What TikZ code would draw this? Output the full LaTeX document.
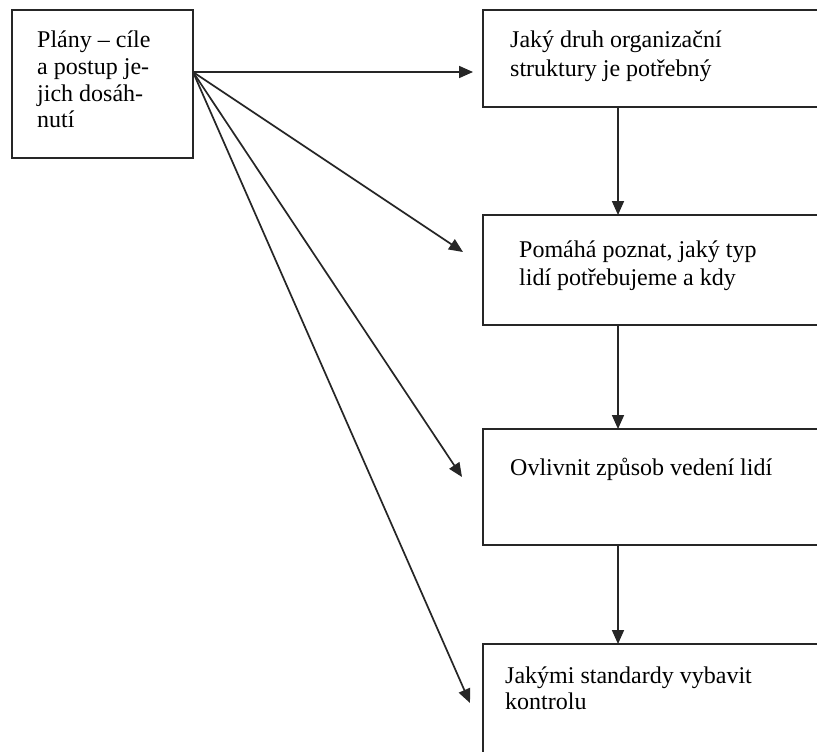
\documentclass[tikz,border=0pt]{standalone}
\usepackage{fontspec}
\setmainfont{Liberation Serif}
\usetikzlibrary{arrows.meta,calc}
\begin{document}
\begin{tikzpicture}[x=1pt,y=-1pt,
  box/.style={draw=black!85, line width=2pt, anchor=north west, inner sep=0pt, outer sep=0pt},
  conn/.style={draw=black!85, line width=1.7pt, -{Triangle[length=14pt,width=12pt]}},
  txt/.style={anchor=base west, inner sep=0pt, align=left}]
\useasboundingbox (0,0) rectangle (817,752);
\fill[white] (0,0) rectangle (817,752);
\clip (0,0) rectangle (817,752);
% boxes
\node[box, minimum width=181pt, minimum height=148pt] (plan) at (12,10) {};
\node[box, minimum width=360pt, minimum height=97pt]  (b1) at (483,10) {};
\node[box, minimum width=360pt, minimum height=110pt] (b2) at (483,215) {};
\node[box, minimum width=360pt, minimum height=116pt] (b3) at (483,429) {};
\node[box, minimum width=360pt, minimum height=140pt] (b4) at (483,644) {};
% texts (anchored at the baseline of their last line)
\node[txt, font=\fontsize{24}{26.7}\selectfont] (tplan) at (37,128) {Plány – cíle\\a postup je-\\jich dosáh-\\nutí};
\node[txt, font=\fontsize{24}{29}\selectfont] (t1x) at (510,77) {Jaký druh organizační\\struktury je potřebný};
\node[txt, font=\fontsize{24}{28}\selectfont] (t2x) at (519,285) {Pomáhá poznat, jaký typ\\lidí potřebujeme a kdy};
\node[txt, font=\fontsize{24}{28}\selectfont] (t3x) at (510,475) {Ovlivnit způsob vedení lidí};
\node[txt, font=\fontsize{24}{26}\selectfont] (t4x) at (505,709) {Jakými standardy vybavit\\kontrolu};
% connector ends
\coordinate (src) at (193,72);
\coordinate (e1) at (473,72);
\coordinate (e2) at (463,252);
\coordinate (e3) at (462,477);
\coordinate (e4) at (470,703);
\draw[conn] (src) -- (e1);
\draw[conn] (src) -- (e2);
\draw[conn] (src) -- (e3);
\draw[conn] (src) -- (e4);
% vertical arrows
\draw[conn] ($(b1.south west)+(135,0)$) -- ($(b2.north west)+(135,0)$);
\draw[conn] ($(b2.south west)+(135,0)$) -- ($(b3.north west)+(135,0)$);
\draw[conn] ($(b3.south west)+(135,0)$) -- ($(b4.north west)+(135,0)$);
\end{tikzpicture}
\end{document}
